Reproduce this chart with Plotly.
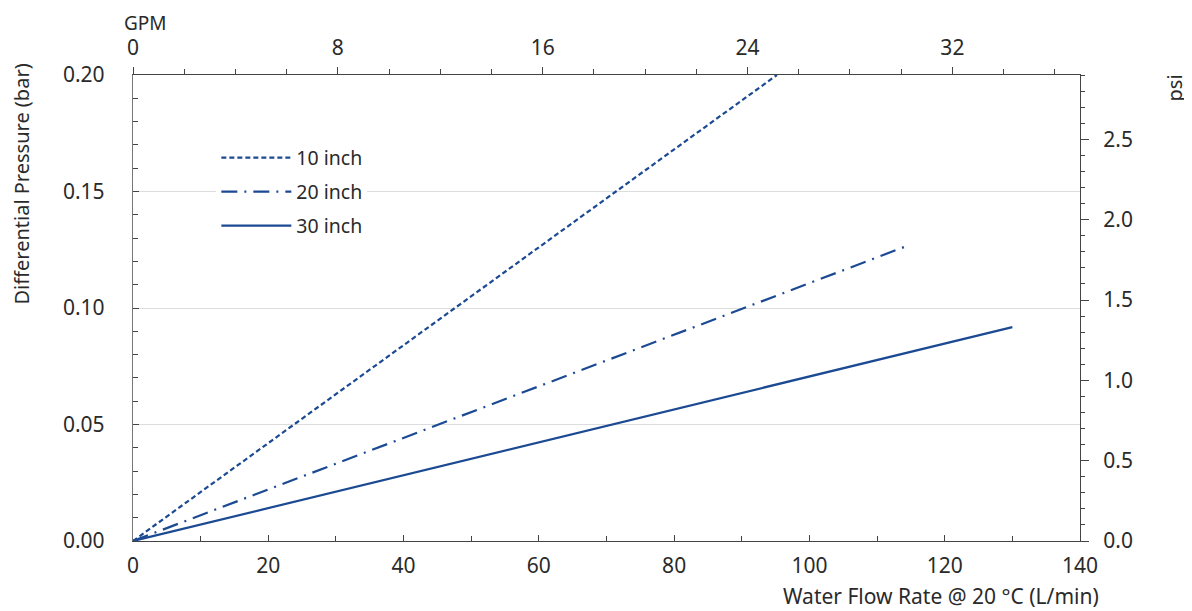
import plotly.graph_objects as go

# Data
flow_10 = [0, 95.2]
dp_10 = [0.0, 0.200]
flow_20 = [0, 114.4]
dp_20 = [0.0, 0.1266]
flow_30 = [0, 130.0]
dp_30 = [0.0, 0.0918]

series_names = ["10 inch", "20 inch", "30 inch"]
x_ticks = [0, 20, 40, 60, 80, 100, 120, 140]
gpm_ticks = [0, 8, 16, 24, 32]
bar_ticks = [0.0, 0.05, 0.10, 0.15, 0.20]
psi_ticks = [0.0, 0.5, 1.0, 1.5, 2.0, 2.5]

LPM_PER_GPM = 3.78541
PSI_PER_BAR = 14.5038
X_MAX = 140
Y_MAX = 0.20

color = "#1b4a93"
font_family = "Noto Sans, Open Sans, sans-serif"
txt = "#2a2a2a"
axcol = "#444444"

fig = go.Figure()
fig.add_trace(go.Scatter(x=flow_10, y=dp_10, mode="lines", name=series_names[0], legend="legend",
                         line=dict(color=color, width=2.2, dash="5px,3px")))
fig.add_trace(go.Scatter(x=flow_20, y=dp_20, mode="lines", name=series_names[1], legend="legend2",
                         line=dict(color=color, width=2.2, dash="16px,7px,2px,7px")))
fig.add_trace(go.Scatter(x=flow_30, y=dp_30, mode="lines", name=series_names[2], legend="legend3",
                         line=dict(color=color, width=2.2)))
# invisible traces to activate secondary axes
fig.add_trace(go.Scatter(x=[0, X_MAX / LPM_PER_GPM], y=[0, 0], xaxis="x2", yaxis="y",
                         mode="lines", line=dict(width=0), showlegend=False, hoverinfo="skip"))
fig.add_trace(go.Scatter(x=[0, X_MAX], y=[0, Y_MAX * PSI_PER_BAR], xaxis="x", yaxis="y2",
                         mode="lines", line=dict(width=0), showlegend=False, hoverinfo="skip"))

tickfont = dict(family=font_family, size=21, color=txt)
legfont = dict(family=font_family, size=19.5, color=txt)
leg_common = dict(x=0.088, xanchor="left", yanchor="middle", bgcolor="white",
                  borderwidth=0, itemwidth=70, font=legfont)

fig.update_layout(
    width=1184, height=603,
    margin=dict(l=125, r=112, t=67, b=70, autoexpand=False),
    paper_bgcolor="white", plot_bgcolor="white",
    font=dict(family=font_family, size=18, color=txt),
    showlegend=True,
    legend=dict(y=(541 - 158) / 466, **leg_common),
    legend2=dict(y=(541 - 192) / 466, **leg_common),
    legend3=dict(y=(541 - 226) / 466, **leg_common),
    xaxis=dict(range=[0, X_MAX], tickvals=x_ticks, showgrid=False, zeroline=False,
               showline=True, linecolor=axcol, linewidth=1.3, mirror=False,
               ticks="inside", ticklen=6, tickcolor=axcol,
               minor=dict(dtick=10, ticks="inside", ticklen=5, tickcolor=axcol),
               tickfont=tickfont, ticklabelstandoff=6),
    xaxis2=dict(range=[0, X_MAX / LPM_PER_GPM], tickvals=gpm_ticks, overlaying="x",
                side="top", showgrid=False, zeroline=False, showline=True,
                linecolor=axcol, linewidth=1.3,
                ticks="outside", ticklen=7, tickcolor=axcol,
                minor=dict(dtick=2, ticks="outside", ticklen=5, tickcolor=axcol),
                tickfont=tickfont, ticklabelstandoff=3),
    yaxis=dict(range=[0, Y_MAX], tickvals=bar_ticks, tickformat=".2f",
               showgrid=True, gridcolor="#dddddd", gridwidth=1, zeroline=False,
               showline=True, linecolor="#777777", linewidth=1.3,
               ticks="inside", ticklen=6, tickcolor=axcol,
               minor=dict(dtick=0.01, ticks="inside", ticklen=5, tickcolor=axcol, showgrid=False),
               tickfont=tickfont, ticklabelstandoff=23),
    yaxis2=dict(range=[0, Y_MAX * PSI_PER_BAR], tickvals=psi_ticks, tickformat=".1f",
                overlaying="y", side="right", showgrid=False, zeroline=False,
                showline=True, linecolor=axcol, linewidth=1.3,
                ticks="outside", ticklen=8, tickcolor=axcol,
                minor=dict(dtick=0.1, ticks="outside", ticklen=4, tickcolor=axcol),
                tickfont=tickfont, ticklabelstandoff=10),
    annotations=[
        dict(text="GPM", xref="paper", yref="paper", x=0, xshift=-10, y=1.0, yshift=38,
             xanchor="left", yanchor="bottom", showarrow=False, borderpad=0,
             font=dict(family=font_family, size=19, color=txt)),
        dict(text="Differential Pressure (bar)", xref="paper", yref="paper",
             x=0, xshift=-112, y=1.0, yshift=13, textangle=-90, xanchor="center",
             yanchor="top", showarrow=False,
             font=dict(family=font_family, size=20, color=txt)),
        dict(text="psi", xref="paper", yref="paper", x=1, xshift=94, y=1.0, yshift=2,
             textangle=-90, xanchor="center", yanchor="top", showarrow=False,
             font=dict(family=font_family, size=20, color=txt)),
        dict(text="Water Flow Rate @ 20 °C (L/min)", xref="paper", yref="paper",
             x=1, xshift=20, y=0, yshift=-55, xanchor="right", yanchor="middle",
             showarrow=False, borderpad=0,
             font=dict(family=font_family, size=21, color=txt)),
    ],
)

fig.write_html("out.html")
